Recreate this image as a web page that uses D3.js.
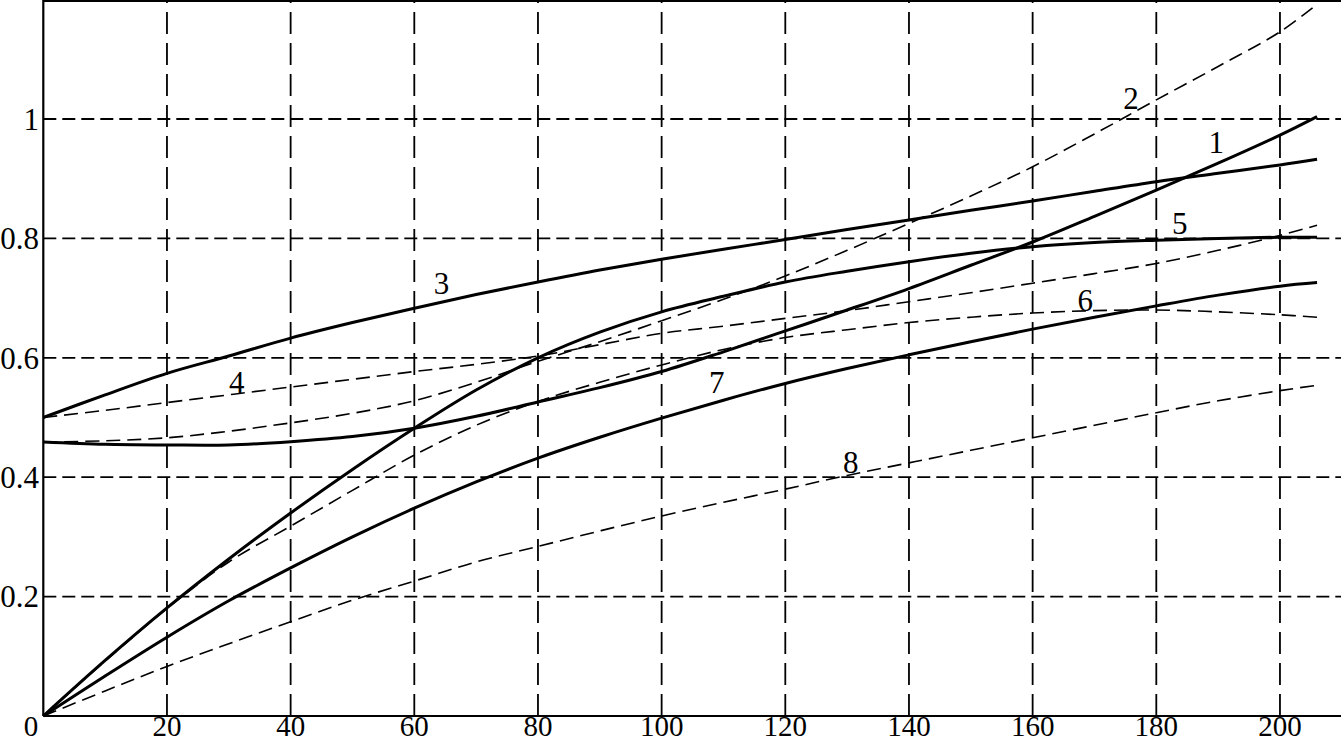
<!DOCTYPE html>
<html>
<head>
<meta charset="utf-8">
<script src="https://cdn.jsdelivr.net/npm/d3@7"></script>
<style>
  html, body { margin: 0; padding: 0; background: #fff; }
  svg { display: block; }
  text { font-family: "Liberation Serif", "DejaVu Serif", serif; fill: #000; }
</style>
</head>
<body>
<svg id="chart" width="1341" height="743"></svg>
<script>
// ---- data ----
const xs = [0,10,20,30,40,50,60,70,80,90,100,110,120,130,140,150,160,170,180,190,200,206];
const curve1 = [0.459,0.455,0.454,0.454,0.4595,0.468,0.482,0.502,0.526,0.55,0.577,0.61,0.645,0.68,0.716,0.755,0.794,0.837,0.881,0.926,0.973,1.004];
const curve2 = [0.459,0.461,0.466,0.477,0.491,0.507,0.528,0.559,0.594,0.627,0.662,0.698,0.737,0.78,0.825,0.871,0.92,0.975,1.032,1.088,1.146,1.192];
const curve3 = [0.5,0.538,0.574,0.603,0.633,0.659,0.683,0.706,0.727,0.747,0.765,0.782,0.798,0.815,0.831,0.847,0.8626,0.879,0.895,0.909,0.923,0.9325];
const curve4 = [0.5,0.512,0.525,0.538,0.551,0.564,0.577,0.589,0.603,0.622,0.641,0.653,0.666,0.679,0.694,0.709,0.725,0.741,0.758,0.78,0.805,0.822];
const curve5 = [0,0.093,0.181,0.263,0.34,0.413,0.482,0.546,0.6,0.643,0.677,0.703,0.727,0.745,0.761,0.775,0.786,0.793,0.797,0.8,0.802,0.802];
const curve6 = [0,0.092,0.18,0.258,0.318,0.378,0.437,0.487,0.527,0.559,0.588,0.614,0.634,0.647,0.659,0.668,0.675,0.679,0.68,0.677,0.672,0.668];
const curve7 = [0,0.067,0.132,0.193,0.248,0.3,0.348,0.392,0.432,0.467,0.499,0.529,0.557,0.582,0.605,0.627,0.648,0.668,0.687,0.705,0.72,0.726];
const curve8 = [0,0.042,0.083,0.121,0.158,0.194,0.226,0.258,0.284,0.31,0.335,0.358,0.38,0.403,0.424,0.445,0.466,0.487,0.508,0.528,0.545,0.554];

const xTicks = [20,40,60,80,100,120,140,160,180,200];
const yTicks = [0.2,0.4,0.6,0.8,1];
const yTickLabels = ["0.2","0.4","0.6","0.8","1"];

// curve label names and anchor positions (data coords)
const labelNames = ["1","2","3","4","5","6","7","8"];
const labelX = [189.7,175.9,64.4,31.3,183.8,168.5,108.9,130.6];
const labelY = [0.962,1.035,0.725,0.56,0.825,0.697,0.56,0.425];

// ---- drawing ----
const svg = d3.select("#chart");
const x = d3.scaleLinear().domain([0,210]).range([43.3, 1341.8]);
const y = d3.scaleLinear().domain([0,1.2]).range([716, -0.4]);

// grid
const g = svg.append("g");
g.selectAll("line.vg").data(xTicks).enter().append("line")
  .attr("x1", d => x(d)).attr("x2", d => x(d))
  .attr("y1", y(0)).attr("y2", 0)
  .attr("stroke", "#000").attr("stroke-width", 1.8)
  .attr("stroke-dasharray", "22,9");
g.selectAll("line.hg").data(yTicks).enter().append("line")
  .attr("x1", x(0)).attr("x2", 1341)
  .attr("y1", d => y(d)).attr("y2", d => y(d))
  .attr("stroke", "#000").attr("stroke-width", 1.8)
  .attr("stroke-dasharray", "13,6");

// frame / axes
svg.append("line").attr("x1", x(0)).attr("x2", x(0)).attr("y1", 0).attr("y2", y(0))
  .attr("stroke", "#000").attr("stroke-width", 2.2);
svg.append("line").attr("x1", x(0)).attr("x2", 1341).attr("y1", y(0)).attr("y2", y(0))
  .attr("stroke", "#000").attr("stroke-width", 2.2);
svg.append("line").attr("x1", x(0)).attr("x2", 1341).attr("y1", 1).attr("y2", 1)
  .attr("stroke", "#000").attr("stroke-width", 2);

// tick labels
svg.selectAll("text.xt").data(xTicks).enter().append("text")
  .attr("x", d => x(d)).attr("y", 736)
  .attr("text-anchor", "middle").attr("font-size", 29)
  .text(d => d);
svg.append("text").attr("x", 31).attr("y", 736).attr("text-anchor", "middle")
  .attr("font-size", 29).text("0");
svg.selectAll("text.yt").data(yTicks).enter().append("text")
  .attr("x", 39).attr("y", d => y(d))
  .attr("dy", "0.35em")
  .attr("text-anchor", "end").attr("font-size", 31)
  .text((d,i) => yTickLabels[i]);

// curves
const series = [
  {v: curve1, dash: null},
  {v: curve2, dash: "14,7"},
  {v: curve3, dash: null},
  {v: curve4, dash: "14,7"},
  {v: curve5, dash: null},
  {v: curve6, dash: "14,7"},
  {v: curve7, dash: null},
  {v: curve8, dash: "14,7"}
];
const line = d3.line()
  .x(d => x(d[0])).y(d => y(d[1]))
  .curve(d3.curveCatmullRom.alpha(0.5));

series.forEach(s => {
  svg.append("path")
    .datum(xs.map((xv,i) => [xv, s.v[i]]))
    .attr("d", line)
    .attr("fill", "none")
    .attr("stroke", "#000")
    .attr("stroke-width", s.dash ? 1.6 : 3)
    .attr("stroke-dasharray", s.dash)
    .attr("stroke-linecap", "butt")
    .attr("stroke-linejoin", "round");
});

// curve labels
svg.selectAll("text.cl").data(labelNames).enter().append("text")
  .attr("x", (d,i) => x(labelX[i])).attr("y", (d,i) => y(labelY[i]))
  .attr("dy", "0.35em")
  .attr("text-anchor", "middle").attr("font-size", 31)
  .text(d => d);
</script>
</body>
</html>
